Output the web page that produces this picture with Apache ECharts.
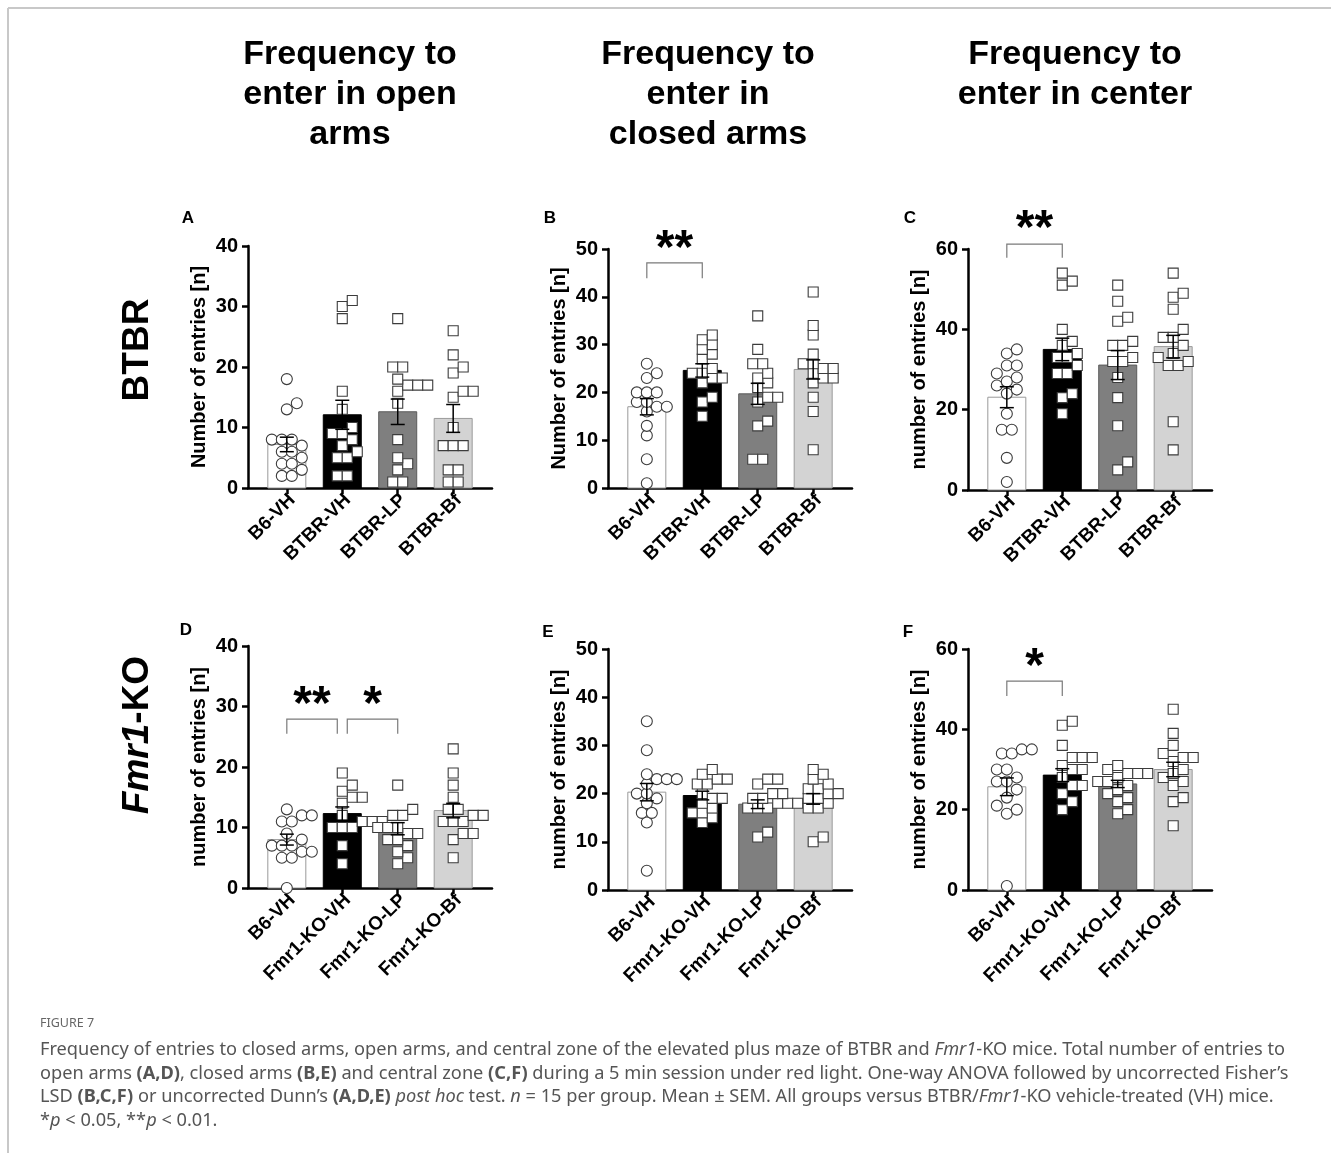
<!DOCTYPE html>
<html>
<head>
<meta charset="utf-8">
<title>Figure 7</title>
<script src="https://cdn.jsdelivr.net/npm/echarts@6/dist/echarts.min.js"></script>
<style>
  html, body { margin: 0; padding: 0; background: #fff; }
  #chart { width: 1331px; height: 1153px; }
</style>
</head>
<body>
<div id="chart"></div>
<script>
// x axis groups
const btbrGroups = ['B6-VH', 'BTBR-VH', 'BTBR-LP', 'BTBR-Bf'];
const fmr1Groups = ['B6-VH', 'Fmr1-KO-VH', 'Fmr1-KO-LP', 'Fmr1-KO-Bf'];

// A - open arms, BTBR
const openBtbrMean = [7.2, 12.1, 12.6, 11.5];
const openBtbrSem = [1.2, 2.4, 2.1, 2.3];
const openBtbrPoints = [
  [18, 14, 13, 8, 8, 8, 7, 6, 6, 5, 4, 4, 3, 2, 2],
  [31, 30, 28, 16, 13, 10, 9, 9, 8, 7, 6, 5, 5, 2, 2],
  [28, 20, 20, 18, 17, 17, 17, 16, 14, 8, 5, 4, 3, 1, 1],
  [26, 22, 20, 19, 16, 16, 15, 10, 7, 7, 7, 3, 3, 1, 1]
];

// B - closed arms, BTBR
const closedBtbrMean = [17.0, 24.6, 19.7, 24.8];
const closedBtbrSem = [1.7, 1.4, 2.2, 2.0];
const closedBtbrPoints = [
  [26, 24, 23, 20, 20, 20, 18, 18, 17, 17, 16, 13, 11, 6, 1],
  [32, 31, 30, 29, 28, 27, 25, 24, 24, 23, 23, 22, 19, 18, 15],
  [36, 29, 26, 26, 24, 23, 22, 21, 19, 19, 18, 14, 13, 6, 6],
  [41, 34, 32, 28, 26, 26, 25, 25, 24, 23, 23, 22, 19, 16, 8]
];

// C - center, BTBR
const centerBtbrMean = [23.1, 35.0, 31.1, 35.7];
const centerBtbrSem = [2.6, 2.8, 3.6, 2.8];
const centerBtbrPoints = [
  [35, 34, 31, 31, 29, 28, 27, 26, 25, 24, 19, 15, 15, 8, 2],
  [54, 52, 51, 40, 37, 36, 34, 33, 33, 31, 29, 29, 24, 23, 19],
  [51, 47, 43, 42, 37, 36, 36, 33, 32, 32, 28, 23, 16, 7, 5],
  [54, 49, 48, 45, 40, 38, 38, 36, 34, 33, 32, 31, 31, 17, 10]
];

// D - open arms, Fmr1-KO
const openFmr1Mean = [8.0, 12.3, 9.8, 12.8];
const openFmr1Sem = [0.9, 1.1, 1.0, 1.2];
const openFmr1Points = [
  [13, 12, 12, 11, 11, 9, 8, 7, 7, 7, 6, 6, 5, 5, 0],
  [19, 17, 16, 15, 15, 14, 12, 11, 11, 11, 10, 10, 10, 7, 4],
  [17, 13, 12, 12, 10, 10, 10, 9, 9, 8, 8, 7, 6, 5, 4],
  [23, 19, 17, 15, 13, 13, 12, 12, 11, 11, 11, 9, 9, 8, 5]
];

// E - closed arms, Fmr1-KO
const closedFmr1Mean = [20.3, 19.6, 17.8, 18.9];
const closedFmr1Sem = [1.8, 0.9, 0.9, 1.1];
const closedFmr1Points = [
  [35, 29, 24, 23, 23, 23, 22, 20, 20, 19, 18, 16, 16, 14, 4],
  [25, 24, 23, 23, 22, 22, 20, 19, 19, 18, 17, 16, 16, 15, 14],
  [23, 23, 22, 20, 20, 19, 19, 18, 18, 18, 17, 17, 17, 12, 11],
  [25, 24, 23, 22, 21, 21, 20, 20, 19, 19, 18, 17, 17, 11, 10]
];

// F - center, Fmr1-KO
const centerFmr1Mean = [25.7, 28.6, 26.4, 30.0];
const centerFmr1Sem = [2.2, 1.6, 0.9, 1.8];
const centerFmr1Points = [
  [35, 35, 34, 34, 30, 30, 28, 27, 27, 25, 23, 21, 20, 19, 1],
  [42, 41, 36, 33, 33, 33, 31, 30, 30, 28, 26, 26, 24, 22, 20],
  [31, 30, 29, 29, 29, 28, 27, 27, 26, 25, 24, 23, 22, 20, 19],
  [45, 39, 36, 34, 33, 33, 32, 30, 29, 28, 27, 26, 23, 22, 16]
];

// significance: [from group, to group, stars]
const closedBtbrSig = [[0, 1, '**']];
const centerBtbrSig = [[0, 1, '**']];
const openFmr1Sig = [[0, 0.91, '**'], [1.09, 2, '*']];
const centerFmr1Sig = [[0, 1, '*']];

// bracket levels in axis units: [leg end, bracket line, stars]
const sigLevels = [null, [43.9, 47.1, 51.5], [57.8, 61.2, 66.7], [25.5, 27.9, 31.4], null, [48.3, 52.0, 57.3]];

const panels = [
  { groups: btbrGroups, mean: openBtbrMean, sem: openBtbrSem, pts: openBtbrPoints, sig: [], max: 40, step: 10, name: 'Number of entries [n]' },
  { groups: btbrGroups, mean: closedBtbrMean, sem: closedBtbrSem, pts: closedBtbrPoints, sig: closedBtbrSig, max: 50, step: 10, name: 'Number of entries [n]' },
  { groups: btbrGroups, mean: centerBtbrMean, sem: centerBtbrSem, pts: centerBtbrPoints, sig: centerBtbrSig, max: 60, step: 20, name: 'number of entries [n]' },
  { groups: fmr1Groups, mean: openFmr1Mean, sem: openFmr1Sem, pts: openFmr1Points, sig: openFmr1Sig, max: 40, step: 10, name: 'number of entries [n]' },
  { groups: fmr1Groups, mean: closedFmr1Mean, sem: closedFmr1Sem, pts: closedFmr1Points, sig: [], max: 50, step: 10, name: 'number of entries [n]' },
  { groups: fmr1Groups, mean: centerFmr1Mean, sem: centerFmr1Sem, pts: centerFmr1Points, sig: centerFmr1Sig, max: 60, step: 20, name: 'number of entries [n]' }
];

const gridBoxes = [
  { left: 248, top: 246, width: 244, height: 242 },
  { left: 608, top: 249, width: 244, height: 239 },
  { left: 968, top: 249, width: 244, height: 241 },
  { left: 248, top: 646, width: 244, height: 242 },
  { left: 608, top: 649, width: 244, height: 241 },
  { left: 968, top: 649, width: 244, height: 241 }
];

const FONT = 'Liberation Sans, Arial, sans-serif';
const barFill = ['#ffffff', '#000000', '#7f7f7f', '#d3d3d3'];
const barStroke = ['#9a9a9a', '#000000', '#5a5a5a', '#9a9a9a'];
const BAR_W = 38;
const DOT = 11;      // marker size
const GAP = 9.5;     // min distance between marker centres in the swarm
const ROW = 10;      // spacing of equal values in a row
const LABEL_SHIFT = 0.1; // rotated group labels sit a little right of their tick

// bars
function barSeries(k, p) {
  return {
    type: 'custom', xAxisIndex: k, yAxisIndex: k, z: 1,
    data: p.mean.map((m, i) => [i, m]),
    renderItem: (params, api) => {
      const i = api.value(0);
      const top = api.coord([i, api.value(1)]);
      const base = api.coord([i, 0]);
      return {
        type: 'rect',
        shape: { x: top[0] - BAR_W / 2, y: top[1], width: BAR_W, height: base[1] - top[1] },
        style: { fill: barFill[i], stroke: barStroke[i], lineWidth: 1 }
      };
    }
  };
}

// mean ± SEM
function errSeries(k, p) {
  return {
    type: 'custom', xAxisIndex: k, yAxisIndex: k, z: 4,
    data: p.mean.map((m, i) => [i, m - p.sem[i], m + p.sem[i]]),
    encode: { x: 0, y: [1, 2] },
    renderItem: (params, api) => {
      const i = api.value(0);
      const lo = api.coord([i, api.value(1)]);
      const hi = api.coord([i, api.value(2)]);
      const st = { stroke: '#000', lineWidth: 1.5 };
      return {
        type: 'group',
        children: [
          { type: 'line', shape: { x1: lo[0], y1: lo[1], x2: hi[0], y2: hi[1] }, style: st },
          { type: 'line', shape: { x1: hi[0] - 7, y1: hi[1], x2: hi[0] + 7, y2: hi[1] }, style: st },
          { type: 'line', shape: { x1: lo[0] - 7, y1: lo[1], x2: lo[0] + 7, y2: lo[1] }, style: st }
        ]
      };
    }
  };
}

// individual animals, laid out as a swarm in pixel space
function pointSeries(k, p) {
  return {
    type: 'custom', xAxisIndex: k, yAxisIndex: k, z: 3,
    data: p.pts.map((arr, i) => [i, Math.max(...arr)]),
    renderItem: (params, api) => {
      const g = params.dataIndex;
      const cx = api.coord([g, 0])[0];
      const vals = p.pts[g].slice().sort((a, b) => a - b);
      const uniq = [...new Set(vals)];
      const placed = [];
      uniq.forEach(v => {
        const n = vals.filter(x => x === v).length;
        const y = api.coord([g, v])[1];
        const tries = [0];
        for (let s = 1; s < 40; s++) { tries.push(s * ROW / 2, -s * ROW / 2); }
        for (const s of tries) {
          const offs = [];
          for (let j = 0; j < n; j++) offs.push(s + (j - (n - 1) / 2) * ROW);
          const ok = offs.every(o => placed.every(q => {
            const dy = Math.abs(q.y - y);
            if (dy >= GAP) return true;
            return Math.abs(q.o - o) >= Math.sqrt(GAP * GAP - dy * dy) - 0.01;
          }));
          if (ok) { offs.forEach(o => placed.push({ o, y })); break; }
        }
      });
      const st = { fill: '#fff', stroke: '#3c3c3c', lineWidth: 1.1 };
      return {
        type: 'group',
        children: placed.map(q => g === 0
          ? { type: 'circle', shape: { cx: cx + q.o, cy: q.y, r: DOT / 2 }, style: st }
          : { type: 'rect', shape: { x: cx + q.o - 5, y: q.y - 5, width: 10, height: 10 }, style: st })
      };
    }
  };
}

// brackets with stars
function sigSeries(k, p) {
  const lv = sigLevels[k];
  return {
    type: 'custom', xAxisIndex: k, yAxisIndex: k, z: 5, clip: false,
    data: p.sig.map(s => [s[0], s[1]]),
    renderItem: (params, api) => {
      const a = api.value(0), b = api.value(1);
      const p1 = api.coord([a, lv[0]]), p2 = api.coord([a, lv[1]]);
      const p3 = api.coord([b, lv[1]]), p4 = api.coord([b, lv[0]]);
      const star = api.coord([(a + b) / 2, lv[2]]);
      return {
        type: 'group',
        children: [
          { type: 'polyline', shape: { points: [p1, p2, p3, p4] }, style: { stroke: '#7a7a7a', lineWidth: 1.2, fill: null } },
          { type: 'text', style: { text: p.sig[params.dataIndex][2], x: star[0], y: star[1] + 8, align: 'center', verticalAlign: 'middle', fontSize: 48, fontWeight: 'bold', fontFamily: FONT, fill: '#000' } }
        ]
      };
    }
  };
}

const series = [];
panels.forEach((p, k) => {
  series.push(barSeries(k, p), pointSeries(k, p), errSeries(k, p));
  if (p.sig.length) series.push(sigSeries(k, p));
});

const axisStyle = { color: '#000', width: 2.5 };

const option = {
  animation: false,
  backgroundColor: '#fff',
  grid: gridBoxes.map(b => Object.assign({ outerBoundsMode: 'none' }, b)),
  xAxis: panels.map((p, k) => ({
    gridIndex: k, type: 'value', min: -0.7, max: 3.7,
    axisLine: { onZero: false, lineStyle: axisStyle },
    axisTick: { customValues: [0, 1, 2, 3], length: 6, lineStyle: axisStyle },
    axisLabel: {
      customValues: [0, 1, 2, 3].map(i => i + LABEL_SHIFT), formatter: v => p.groups[Math.floor(v)],
      rotate: 45, margin: 9, fontSize: 19, fontWeight: 'bold', fontFamily: FONT, color: '#000'
    },
    splitLine: { show: false }
  })),
  yAxis: panels.map((p, k) => ({
    gridIndex: k, type: 'value', min: 0, max: p.max, interval: p.step,
    name: p.name, nameLocation: 'middle', nameGap: 39,
    nameTextStyle: { fontSize: 20, fontWeight: 'bold', fontFamily: FONT, color: '#000' },
    axisLine: { show: true, onZero: false, lineStyle: axisStyle },
    axisTick: { show: true, length: 6, lineStyle: axisStyle },
    axisLabel: { margin: 10, fontSize: 20, fontWeight: 'bold', fontFamily: FONT, color: '#000' },
    splitLine: { show: false }
  })),
  series: series,
  graphic: [
    { type: 'line', shape: { x1: 8, y1: 8, x2: 1331, y2: 8 }, style: { stroke: '#c8c8c8', lineWidth: 2 } },
    { type: 'line', shape: { x1: 8, y1: 8, x2: 8, y2: 1153 }, style: { stroke: '#c8c8c8', lineWidth: 2 } },
    { type: 'text', x: 350, y: 35, style: { text: 'Frequency to\nenter in open\narms', align: 'center', verticalAlign: 'top', lineHeight: 40, fontSize: 34, fontWeight: 'bold', fontFamily: FONT, fill: '#000' } },
    { type: 'text', x: 708, y: 35, style: { text: 'Frequency to\nenter in\nclosed arms', align: 'center', verticalAlign: 'top', lineHeight: 40, fontSize: 34, fontWeight: 'bold', fontFamily: FONT, fill: '#000' } },
    { type: 'text', x: 1075, y: 35, style: { text: 'Frequency to\nenter in center', align: 'center', verticalAlign: 'top', lineHeight: 40, fontSize: 34, fontWeight: 'bold', fontFamily: FONT, fill: '#000' } },
    { type: 'text', x: 138, y: 350, rotation: Math.PI / 2, style: { text: 'BTBR', align: 'center', verticalAlign: 'middle', fontSize: 37, fontWeight: 'bold', fontFamily: FONT, fill: '#000' } },
    { type: 'text', x: 138, y: 735, rotation: Math.PI / 2, style: {
      text: '{i|Fmr1}-KO', align: 'center', verticalAlign: 'middle', fontSize: 37, fontWeight: 'bold', fontFamily: FONT, fill: '#000',
      rich: { i: { fontSize: 37, fontWeight: 'bold', fontStyle: 'italic', fontFamily: FONT, fill: '#000' } }
    } },
    ...[['A', 188, 218], ['B', 550, 218], ['C', 910, 218], ['D', 186, 630], ['E', 548, 632], ['F', 908, 632]].map(l => ({
      type: 'text', x: l[1], y: l[2], style: { text: l[0], align: 'center', verticalAlign: 'middle', fontSize: 17, fontWeight: 'bold', fontFamily: FONT, fill: '#000' }
    })),
    { type: 'text', x: 40, y: 1023, style: { text: 'FIGURE 7', verticalAlign: 'middle', fontSize: 12.5, fontFamily: 'Noto Sans', fill: '#666' } },
    ...[
      'Frequency of entries to closed arms, open arms, and central zone of the elevated plus maze of BTBR and {i|Fmr1}-KO mice. Total number of entries to',
      'open arms {b|(A,D)}, closed arms {b|(B,E)} and central zone {b|(C,F)} during a 5 min session under red light. One-way ANOVA followed by uncorrected Fisher\u2019s',
      'LSD {b|(B,C,F)} or uncorrected Dunn\u2019s {b|(A,D,E)} {i|post hoc} test. {i|n} = 15 per group. Mean \u00b1 SEM. All groups versus BTBR/{i|Fmr1}-KO vehicle-treated (VH) mice.',
      '*{i|p} < 0.05, **{i|p} < 0.01.'
    ].map((t, j) => ({
      type: 'text', x: 40, y: 1050 + j * 23.5, style: {
        text: t, verticalAlign: 'middle', fontSize: 18.2, fontFamily: 'Noto Sans', fill: '#555',
        rich: {
          i: { fontSize: 18.2, fontStyle: 'italic', fontFamily: 'Noto Sans', fill: '#555' },
          b: { fontSize: 18.2, fontWeight: 'bold', fontFamily: 'Noto Sans', fill: '#555' }
        }
      }
    }))
  ]
};

const chart = echarts.init(document.getElementById('chart'));
chart.setOption(option);
window.addEventListener('resize', () => chart.resize());
</script>
</body>
</html>
